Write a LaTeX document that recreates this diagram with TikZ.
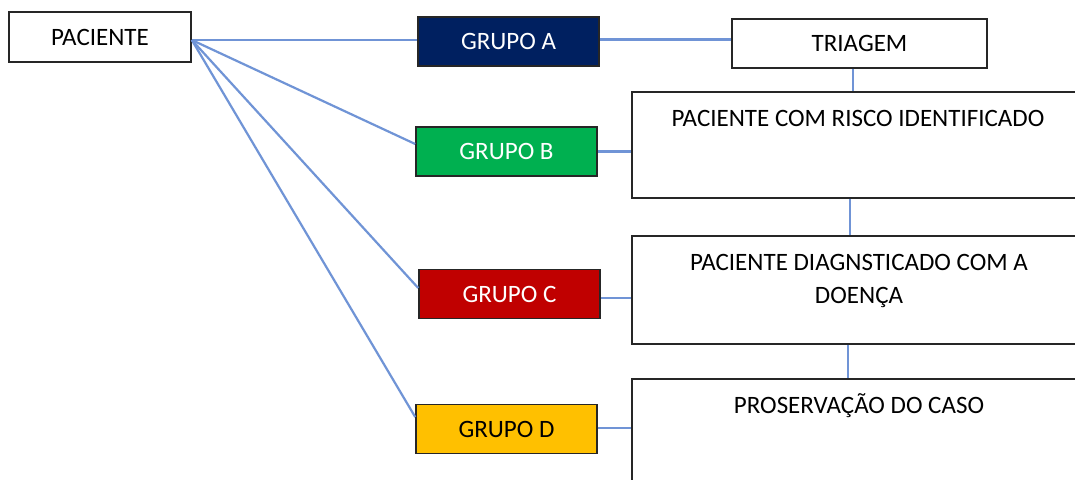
\documentclass[tikz,border=0pt]{standalone}
\usepackage{fontspec}
\setmainfont{Carlito}
\definecolor{navyA}{HTML}{002060}
\definecolor{greenB}{HTML}{00B050}
\definecolor{redC}{HTML}{C00000}
\definecolor{yellowD}{HTML}{FFC000}
\definecolor{conn}{HTML}{7094D6}
\tikzset{
  boxbase/.style={draw=black!85, line width=1.6pt, inner sep=0pt, font=\fontsize{25}{33}\selectfont},
  grp/.style={boxbase, minimum width=181, minimum height=49},
  bigbox/.style={boxbase, minimum width=454},
  txt/.style={inner sep=0pt, align=center, font=\fontsize{25}{33}\selectfont},
  link/.style={draw=conn, line width=2.2pt},
}
\begin{document}
\begin{tikzpicture}[x=1pt,y=-1pt]
\useasboundingbox (0,0) rectangle (1075,479);
\clip (0,0) rectangle (1075,479);
\fill[white] (0,0) rectangle (1075,479);

% left node
\node[boxbase, minimum width=182, minimum height=50] (pac) at (100,37) {PACIENTE};

% groups
\node[grp, fill=navyA, text=white] (ga) at (508.5,41.5) {GRUPO A};
\node[grp, fill=greenB, text=white] (gb) at (506.5,151.5) {GRUPO B};
\node[grp, fill=redC, text=white] (gc) at (509.5,294) {GRUPO C};
\node[grp, fill=yellowD, text=black] (gd) at (506.5,429) {GRUPO D};

% right column
\node[boxbase, minimum width=255, minimum height=49] (tri) at (859.5,43.5) {TRIAGEM};
\node[bigbox, minimum height=106] (risk) at (859,145) {};
\node[txt] (risktxt) at (858,118) {PACIENTE COM RISCO IDENTIFICADO};
\node[bigbox, minimum height=108] (diag) at (859,290) {};
\node[txt] (diagtxt) at (859,280.5) {PACIENTE DIAGNSTICADO COM A\\DOENÇA};
\node[bigbox, minimum height=106] (pros) at (859,432) {};
\node[txt] (prostxt) at (859,406) {PROSERVAÇÃO DO CASO};

% connectors from PACIENTE
\coordinate (src) at ([yshift=-3pt]pac.east);
\draw[link] (src) -- (ga.west |- src);
\draw[link] (src) -- ([yshift=7.5pt]gb.west);
\draw[link] (src) -- ([yshift=6pt]gc.west);
\draw[link] (src) -- ([yshift=12pt]gd.west);

% connectors group -> right column
\draw[link] ([yshift=2pt]ga.east) -- ([yshift=2pt]ga.east -| tri.west);
\draw[link] (gb.east) -- (gb.east -| risk.west);
\draw[link] ([yshift=-4pt]gc.east) -- ([yshift=-4pt]gc.east -| diag.west);
\draw[link] ([yshift=1pt]gd.east) -- ([yshift=1pt]gd.east -| pros.west);

% vertical links
\draw[link] ([xshift=-6.5pt]tri.south) -- ([xshift=-6.5pt]tri.south |- risk.north);
\draw[link] ([xshift=-9pt]risk.south) -- ([xshift=-9pt]risk.south |- diag.north);
\draw[link] ([xshift=-11pt]diag.south) -- ([xshift=-11pt]diag.south |- pros.north);
\end{tikzpicture}
\end{document}
